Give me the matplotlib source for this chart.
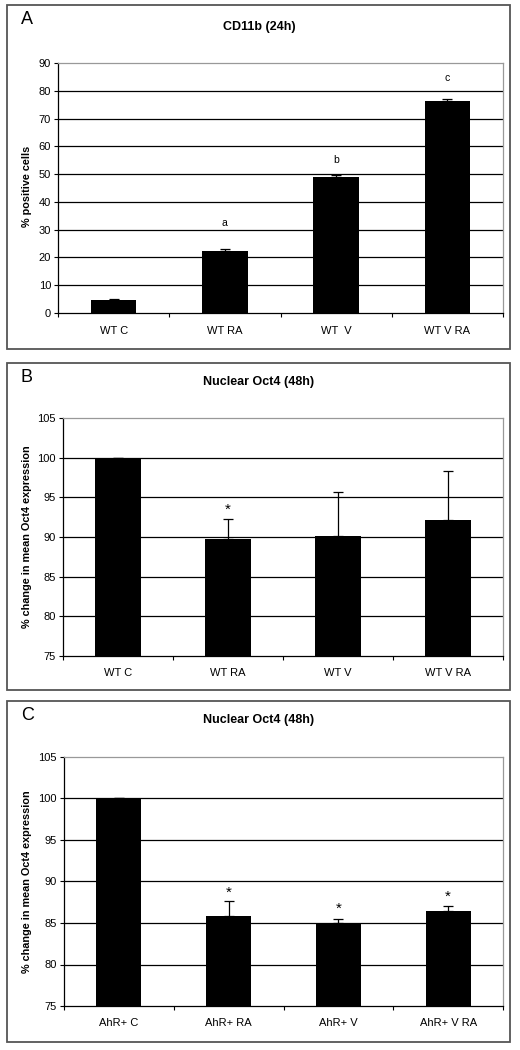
import matplotlib
matplotlib.use('Agg')
import matplotlib.pyplot as plt
from matplotlib.patches import Rectangle

plt.rcParams['font.family'] = ['Liberation Sans', 'DejaVu Sans']

# Данные панели A
cats_a = ['WT C', 'WT RA', 'WT  V', 'WT V RA']
vals_a = [4.8, 22.5, 48.8, 76.5]
errs_a = [0.3, 0.6, 0.8, 0.5]
marks_a = ['', 'a', 'b', 'c']
marks_a_y = [0, 32.4, 55.0, 84.6]

# Данные панели B
cats_b = ['WT C', 'WT RA', 'WT V', 'WT V RA']
vals_b = [100.0, 89.8, 90.1, 92.2]
errs_b = [0.0, 2.5, 5.6, 6.1]
marks_b = ['', '*', '', '']
marks_b_y = [0, 93.4, 0, 0]

# Данные панели C
cats_c = ['AhR+ C', 'AhR+ RA', 'AhR+ V', 'AhR+ V RA']
vals_c = [100.0, 85.8, 85.0, 86.4]
errs_c = [0.0, 1.8, 0.5, 0.6]
marks_c = ['', '*', '*', '*']
marks_c_y = [0, 88.6, 86.7, 88.1]

W, H = 520, 1050
fig = plt.figure(figsize=(W / 100, H / 100), dpi=100)


def px_axes(l, t, r, b):
    return fig.add_axes([l / W, 1 - b / H, (r - l) / W, (b - t) / H])


def frame(l, t, r, b):
    fig.patches.append(Rectangle((l / W, 1 - b / H), (r - l) / W, (b - t) / H,
                                 transform=fig.transFigure, fill=False,
                                 edgecolor='#555555', linewidth=1.3))


def panel(box, ax_box, letter, title, title_y, cats, vals, errs, marks, marks_y,
          ylim, step, ylabel, ylab_y):
    frame(*box)
    ax = px_axes(*ax_box)
    x = list(range(1, len(cats) + 1))
    ax.bar(x, vals, width=0.41, color='black', zorder=3)
    ax.errorbar(x, vals, yerr=[[0] * len(errs), errs], fmt='none', ecolor='black',
                elinewidth=0.9, capsize=3.5, capthick=0.9, zorder=4)
    for xi, m, my in zip(x, marks, marks_y):
        if m:
            fs = 7.5 if m != '*' else 11
            ax.text(xi, my, m, ha='center', va='center', fontsize=fs)
    ax.set_xlim(0.5, len(cats) + 0.5)
    ax.set_ylim(*ylim)
    ticks = list(range(ylim[0], ylim[1] + 1, step))
    ax.set_yticks(ticks)
    ax.set_yticklabels([str(t) for t in ticks], fontsize=8)
    for t in ticks[1:-1]:
        ax.axhline(t, color='black', linewidth=0.9, zorder=1)
    ax.set_xticks([i + 0.5 for i in range(len(cats) + 1)])
    ax.set_xticklabels([])
    ax.set_xticks(x, minor=True)
    ax.set_xticklabels(cats, minor=True, fontsize=8)
    ax.tick_params(axis='x', which='minor', length=0, pad=9)
    ax.tick_params(axis='x', which='major', length=3, direction='out', width=0.8)
    ax.tick_params(axis='y', length=3, direction='out', width=0.8, pad=2)
    ax.spines['left'].set_color('black')
    ax.spines['bottom'].set_color('black')
    ax.spines['top'].set_color('#999999')
    ax.spines['right'].set_color('#999999')
    for s in ax.spines.values():
        s.set_linewidth(0.9)
    l, t, r, b = box
    fig.text(27 / W, 1 - ylab_y / H, ylabel, rotation=90, ha='center', va='center',
             fontsize=7.8, fontweight='bold')
    fig.text(259 / W, 1 - title_y / H, title,
             ha='center', va='center', fontsize=9, fontweight='bold')
    fig.text((l + 14) / W, 1 - (t + 14) / H, letter, ha='left', va='center', fontsize=13)
    return ax


panel((7, 5, 510, 349), (58, 63, 503, 313), 'A', 'CD11b (24h)', 27,
      cats_a, vals_a, errs_a, marks_a, marks_a_y, (0, 90), 10, '% positive cells', 186)
panel((7, 363, 510, 690), (63, 418, 503, 656), 'B', 'Nuclear Oct4 (48h)', 382,
      cats_b, vals_b, errs_b, marks_b, marks_b_y, (75, 105), 5,
      '% change in mean Oct4 expression', 537)
panel((7, 701, 510, 1042), (64, 757, 503, 1006), 'C', 'Nuclear Oct4 (48h)', 720,
      cats_c, vals_c, errs_c, marks_c, marks_c_y, (75, 105), 5,
      '% change in mean Oct4 expression', 882)

fig.savefig('out.png', dpi=100)
